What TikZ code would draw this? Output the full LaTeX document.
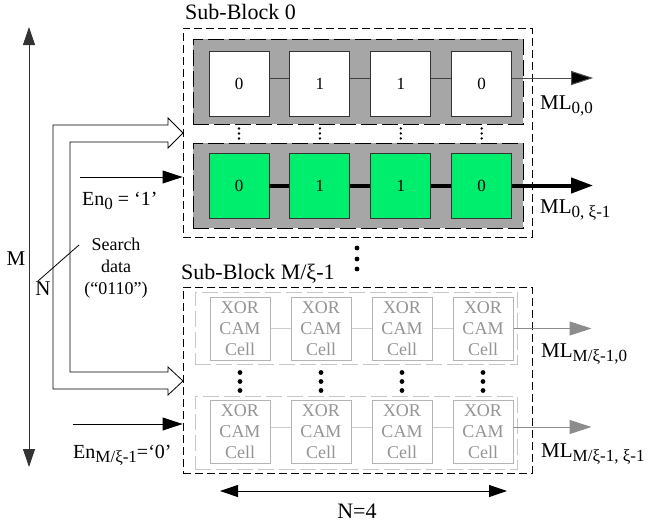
\documentclass[tikz,border=0pt]{standalone}
\usepackage{fontspec}
\setmainfont{Liberation Serif}
\usetikzlibrary{positioning,arrows.meta}

\definecolor{rowgray}{RGB}{166,166,166}
\definecolor{camgreen}{RGB}{0,238,110}
\definecolor{offgray}{RGB}{180,180,180}
\definecolor{mlgray}{RGB}{140,140,140}

\newcommand{\lo}[1]{\raisebox{-4.5pt}{\fontsize{17}{17}\selectfont #1}}

\tikzset{
  bit/.style={draw=black!80, line width=0.9pt, fill=white, minimum width=60pt,
    minimum height=65pt, inner sep=0pt, font=\fontsize{17}{20}\selectfont},
  hit/.style={bit, fill=camgreen},
  idle/.style={draw=offgray, line width=1pt, minimum width=60pt, minimum height=63pt,
    inner sep=0pt, align=center, text=black!42, font=\fontsize{18}{21}\selectfont},
  row/.style={draw, fill=rowgray, dash pattern=on 16pt off 5pt, inner sep=0pt},
  rowoff/.style={draw=black!22, line width=1pt, dash pattern=on 16pt off 5pt, inner sep=0pt},
  block/.style={draw, line width=0.9pt, dash pattern=on 8pt off 4pt, inner sep=0pt},
  lbl/.style={inner sep=0pt, font=\fontsize{21}{24}\selectfont},
  title/.style={inner sep=0pt, anchor=base west, font=\fontsize{22}{26}\selectfont},
  head/.style={-{Triangle[length=20pt,width=13pt]}, line width=0.9pt},
  both/.style={{Triangle[length=18pt,width=12pt]}-{Triangle[length=18pt,width=12pt]}, line width=0.9pt},
}

\begin{document}
\begin{tikzpicture}[x=1pt, y=-1pt]
    \useasboundingbox (0,0) rectangle (654,525);

    % Search data bus
    \draw[fill=white, line width=0.8pt]
      (183,133) -- (168,118) -- (168,125) -- (53,125) -- (53,389) -- (168,389)
      -- (168,395) -- (183,381) -- (168,367) -- (168,372) -- (70,372) -- (70,142)
      -- (168,142) -- (168,148) -- cycle;

    % Sub-Block 0
    \node[block, minimum width=349pt, minimum height=209pt] (blk0) at (357.5,132.5) {};
    \node[row, minimum width=330pt, minimum height=85pt]    (r0)   at (358,81.5) {};
    \node[row, minimum width=330pt, minimum height=85pt]    (r1)   at (358,185.5) {};
    \node[title] (t0) at (185,19) {Sub-Block 0};

    \node[bit]                       (a1) at (239,83.5) {0};
    \node[bit, right=20pt of a1]     (a2) {1};
    \node[bit, right=20pt of a2]     (a3) {1};
    \node[bit, right=20pt of a3]     (a4) {0};

    \node[hit]                       (b1) at (239,185.5) {0};
    \node[hit, right=20pt of b1]     (b2) {1};
    \node[hit, right=20pt of b2]     (b3) {1};
    \node[hit, right=20pt of b3]     (b4) {0};

    % Sub-Block M/xi-1
    \node[block, minimum width=349pt, minimum height=186pt] (blkm) at (357.5,380) {};
    \node[rowoff, minimum width=322pt, minimum height=72pt] (rm0)  at (356,328) {};
    \node[rowoff, minimum width=322pt, minimum height=73pt] (rm1)  at (356,432.5) {};
    \node[title] (tm) at (181,279) {Sub-Block M/ξ-1};

    \node[idle]                      (c1) at (240,328.5) {XOR\\CAM\\Cell};
    \node[idle, right=20pt of c1]    (c2) {XOR\\CAM\\Cell};
    \node[idle, right=20pt of c2]    (c3) {XOR\\CAM\\Cell};
    \node[idle, right=20pt of c3]    (c4) {XOR\\CAM\\Cell};

    \node[idle]                      (d1) at (240,432) {XOR\\CAM\\Cell};
    \node[idle, right=20pt of d1]    (d2) {XOR\\CAM\\Cell};
    \node[idle, right=20pt of d2]    (d3) {XOR\\CAM\\Cell};
    \node[idle, right=20pt of d3]    (d4) {XOR\\CAM\\Cell};

    % Labels
    \node[lbl, anchor=base west] (ml00) at (540,109) {ML\lo{0,0}};
    \node[lbl, anchor=base west] (ml0x) at (540,213) {ML\lo{0, ξ-1}};
    \node[lbl, anchor=base west] (mlm0) at (541,357) {ML\lo{M/ξ-1,0}};
    \node[lbl, anchor=base west] (mlmx) at (541,457) {ML\lo{M/ξ-1, ξ-1}};
    \node[lbl, anchor=base west, font=\fontsize{20}{24}\selectfont] (en0) at (82,205) {En\lo{0} = ‘1’};
    \node[lbl, anchor=base west, font=\fontsize{20}{24}\selectfont] (enm) at (73,458) {En\lo{M/ξ-1}=‘0’};
    \node[lbl] (mlab) at (16,259) {M};
    \node[lbl] (nlab) at (43,289) {N};
    \node[lbl, anchor=base, font=\fontsize{22}{26}\selectfont] (nfour) at (357,518) {N=4};
    \node[align=center, inner sep=0pt, font=\fontsize{18}{22}\selectfont] (sd) at (116,268)
      {Search\\data\\(“0110”)};

    % Connect the cells
    \draw[black!75, line width=0.9pt] ([yshift=5.5pt]a1.east) -- ([yshift=5.5pt]a2.west)
      ([yshift=5.5pt]a2.east) -- ([yshift=5.5pt]a3.west)
      ([yshift=5.5pt]a3.east) -- ([yshift=5.5pt]a4.west);
    \draw[line width=4pt] (b1) -- (b2) (b2) -- (b3) (b3) -- (b4);
    \draw[black!20, line width=1pt] (c1) -- (c2) (c2) -- (c3) (c3) -- (c4);
    \draw[black!20, line width=1pt] ([yshift=5pt]d1.east) -- ([yshift=5pt]d2.west)
      ([yshift=5pt]d2.east) -- ([yshift=5pt]d3.west)
      ([yshift=5pt]d3.east) -- ([yshift=5pt]d4.west);

    % Match lines
    \draw[black!70, line width=1pt, -{Triangle[length=22pt,width=14pt, fill=black]}]
      ([yshift=5.5pt]a4.east) -- ++(81,0);
    \draw[line width=4pt, -{Triangle[length=22pt,width=15pt]}] (b4.east) -- ++(81,0);
    \draw[mlgray, line width=1pt, -{Triangle[length=22pt,width=14pt]}] (c4.east) -- ++(78,0);
    \draw[mlgray, line width=1pt, -{Triangle[length=22pt,width=14pt]}]
      ([yshift=5pt]d4.east) -- ++(78,0);

    % Dots
    \fill (a1.south) ++(0,12) circle (1.3pt) ++(0,5) circle (1.3pt) ++(0,5) circle (1.3pt);
    \fill (a2.south) ++(0,12) circle (1.3pt) ++(0,5) circle (1.3pt) ++(0,5) circle (1.3pt);
    \fill (a3.south) ++(0,12) circle (1.3pt) ++(0,5) circle (1.3pt) ++(0,5) circle (1.3pt);
    \fill (a4.south) ++(0,12) circle (1.3pt) ++(0,5) circle (1.3pt) ++(0,5) circle (1.3pt);
    \fill (c1.south) ++(0,12) circle (2.4pt) ++(0,9) circle (2.4pt) ++(0,9) circle (2.4pt);
    \fill (c2.south) ++(0,12) circle (2.4pt) ++(0,9) circle (2.4pt) ++(0,9) circle (2.4pt);
    \fill (c3.south) ++(0,12) circle (2.4pt) ++(0,9) circle (2.4pt) ++(0,9) circle (2.4pt);
    \fill (c4.south) ++(0,12) circle (2.4pt) ++(0,9) circle (2.4pt) ++(0,9) circle (2.4pt);
    \fill (357,248) circle (2.4pt) (357,259) circle (2.4pt) (357,269) circle (2.4pt);

    % Enables, dimensions
    \coordinate (en0s) at (80,177);
    \coordinate (enms) at (73,424);
    \draw[head] (en0s) -- (en0s -| blk0.west);
    \draw[head] (enms) -- (enms -| blkm.west);
    \coordinate (mtop) at (29,27);
    \coordinate (mbot) at (29,467);
    \draw[both, black!80] (mtop) -- (mbot);
    \coordinate (nleft) at (220,491);
    \coordinate (nright) at (507,491);
    \draw[both] (nleft) -- (nright);
    \coordinate (sdtip) at (79,245);
    \coordinate (sdfoot) at (38,281);
    \draw[line width=0.8pt] (sdtip) -- (sdfoot);

  \end{tikzpicture}
\end{document}
